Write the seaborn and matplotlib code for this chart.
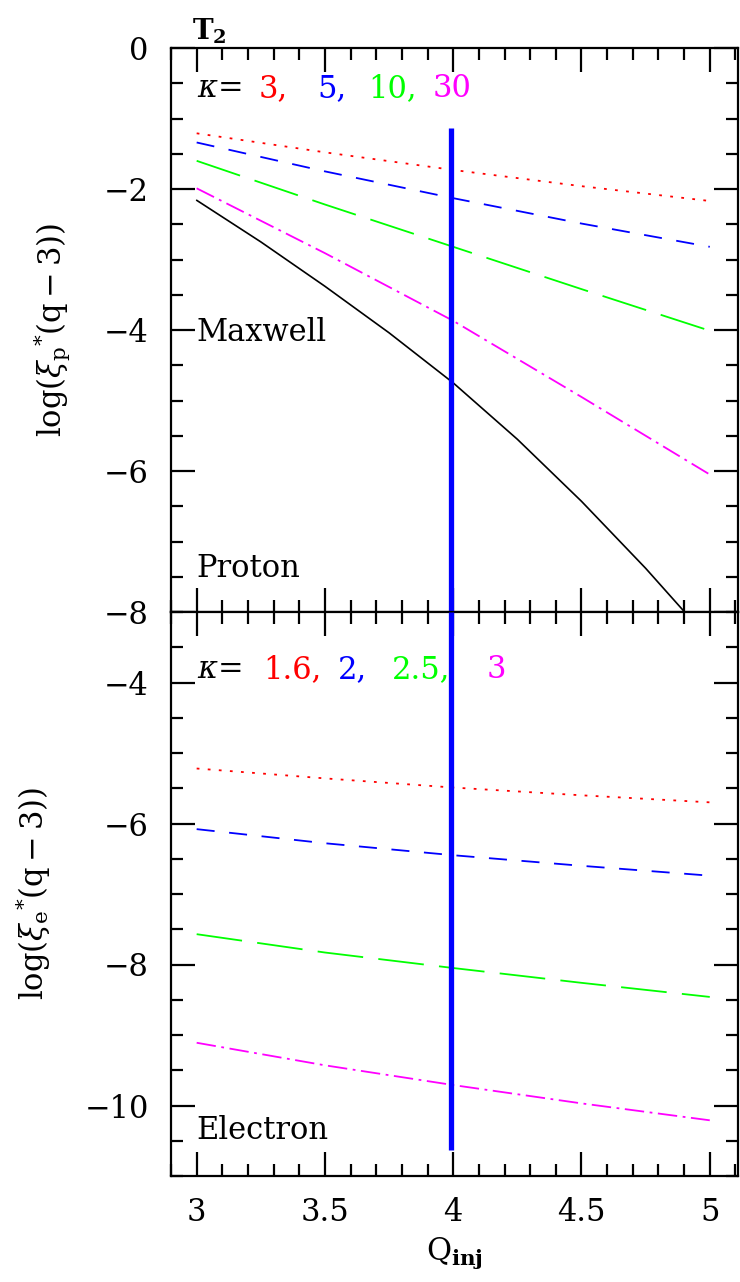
import matplotlib
matplotlib.use("Agg")
import matplotlib.pyplot as plt
import seaborn as sns
import pandas as pd
from matplotlib.ticker import MultipleLocator, FuncFormatter

# ---------------- data ----------------
q_inj = [3.0, 3.5, 4.0, 4.5, 5.0]

proton_kappa_labels = ["3,", "5,", "10,", "30"]
proton_k3 = [-1.21, -1.48, -1.73, -1.96, -2.17]
proton_k5 = [-1.34, -1.75, -2.13, -2.49, -2.82]
proton_k10 = [-1.60, -2.22, -2.82, -3.42, -4.01]
proton_k30 = [-1.99, -2.91, -3.87, -4.95, -6.05]

maxwell_q = [3.0, 3.25, 3.5, 3.75, 4.0, 4.25, 4.5, 4.75, 5.0]
maxwell_p = [-2.16, -2.75, -3.38, -4.04, -4.75, -5.55, -6.43, -7.38, -8.40]

electron_kappa_labels = ["1.6,", "2,", "2.5,", "3"]
electron_k16 = [-5.22, -5.36, -5.49, -5.60, -5.70]
electron_k2 = [-6.08, -6.28, -6.45, -6.60, -6.74]
electron_k25 = [-7.57, -7.83, -8.05, -8.26, -8.46]
electron_k3 = [-9.11, -9.43, -9.71, -9.97, -10.21]

q_mark = 3.99
mark_top_span = [-8.0, -1.13]
mark_bot_span = [-10.63, -3.0]

# ---------------- style ----------------
sns.set_theme(style="ticks")
plt.rcParams["font.family"] = ["DejaVu Serif"]
plt.rcParams["mathtext.fontset"] = "dejavuserif"
plt.rcParams["lines.scale_dashes"] = False
plt.rcParams["axes.unicode_minus"] = True
for k in ["text.color", "axes.labelcolor", "xtick.color", "ytick.color",
          "xtick.labelcolor", "ytick.labelcolor", "axes.edgecolor"]:
    plt.rcParams[k] = "black"

FS = 22
colors = ["#ff0000", "#0000ff", "#00ff00", "#ff00ff"]
dash_styles = [(2.0, 6.0), (13.0, 10.5), (33.0, 11.0), (14.0, 4.0, 2.0, 4.0)]

fig = plt.figure(figsize=(7.40, 12.82), dpi=100)
left, right = 171 / 740, 738 / 740
top_y0, top_y1 = 1 - 612 / 1282, 1 - 48 / 1282
bot_y0 = 1 - 1176 / 1282
ax1 = fig.add_axes([left, top_y0, right - left, top_y1 - top_y0])
ax2 = fig.add_axes([left, bot_y0, right - left, top_y0 - bot_y0], sharex=ax1)


def draw_series(ax, series_list):
    for vals, col, dsh in zip(series_list, colors, dash_styles):
        df = pd.DataFrame({"q": q_inj, "v": vals})
        sns.lineplot(data=df, x="q", y="v", ax=ax, color=col, lw=1.3,
                     estimator=None, sort=False, legend=False)
        ax.lines[-1].set_dashes(dsh)


draw_series(ax1, [proton_k3, proton_k5, proton_k10, proton_k30])
sns.lineplot(data=pd.DataFrame({"q": maxwell_q, "v": maxwell_p}), x="q", y="v",
             ax=ax1, color="black", lw=1.2, estimator=None, sort=False, legend=False)
draw_series(ax2, [electron_k16, electron_k2, electron_k25, electron_k3])

ax1.vlines(q_mark, mark_top_span[0], mark_top_span[1], color="#0000ff", lw=3.8, zorder=5)
ax2.vlines(q_mark, mark_bot_span[0], mark_bot_span[1], color="#0000ff", lw=3.8, zorder=5)

fmt = FuncFormatter(lambda v, p: ("%g" % v).replace("-", "\u2212"))
for ax, ylim in [(ax1, (-8, 0)), (ax2, (-11, -3))]:
    ax.set_xlim(2.9, 5.11)
    ax.set_ylim(*ylim)
    ax.xaxis.set_major_locator(MultipleLocator(0.5))
    ax.xaxis.set_minor_locator(MultipleLocator(0.1))
    ax.yaxis.set_major_locator(MultipleLocator(2))
    ax.yaxis.set_minor_locator(MultipleLocator(0.5))
    ax.xaxis.set_major_formatter(fmt)
    ax.yaxis.set_major_formatter(fmt)
    ax.tick_params(which="both", direction="in", top=True, right=True,
                   width=1.6, color="black", labelsize=FS)
    ax.tick_params(axis="y", pad=16)
    ax.tick_params(axis="x", pad=15)
    ax.tick_params(which="major", length=17)
    ax.tick_params(which="minor", length=8.5)
    for s in ax.spines.values():
        s.set_linewidth(1.6)
        s.set_color("black")
    ax.set_xlabel("")
    ax.set_ylabel("")

ax1.tick_params(axis="x", labelbottom=False)

ax1.set_ylabel(r"$\mathrm{log}(\xi_{\mathrm{p}}{}^{*}(\mathrm{q}-3))$", fontsize=FS)
ax1.yaxis.set_label_coords(-0.175, 0.5)
ax2.set_ylabel(r"$\mathrm{log}(\xi_{\mathrm{e}}{}^{*}(\mathrm{q}-3))$", fontsize=FS)
ax2.yaxis.set_label_coords(-0.208, 0.5)
ax2.set_xlabel(r"$\mathrm{Q}_{\mathbf{inj}}$", fontsize=FS, labelpad=6)

# header
ax1.annotate(r"$\mathbf{T_2}$", xy=(2.98, 1.004), xycoords=("data", "axes fraction"),
             fontsize=FS - 2, ha="left", va="bottom")

# kappa legends
ax1.text(3.0, -0.57, r"$\kappa$=", fontsize=FS, ha="left", va="center")
for lab, col, xp in zip(proton_kappa_labels, colors, [3.24, 3.47, 3.67, 3.92]):
    ax1.text(xp, -0.57, lab, color=col, fontsize=FS, ha="left", va="center")
ax2.text(3.0, -3.82, r"$\kappa$=", fontsize=FS, ha="left", va="center")
for lab, col, xp in zip(electron_kappa_labels, colors, [3.26, 3.55, 3.76, 4.13]):
    ax2.text(xp, -3.82, lab, color=col, fontsize=FS, ha="left", va="center")

ax1.text(3.0, -4.04, "Maxwell", fontsize=FS, ha="left", va="center")
ax1.text(3.0, -7.38, "Proton", fontsize=FS, ha="left", va="center")
ax2.text(3.0, -10.36, "Electron", fontsize=FS, ha="left", va="center")

fig.savefig("out.png", dpi=100)
